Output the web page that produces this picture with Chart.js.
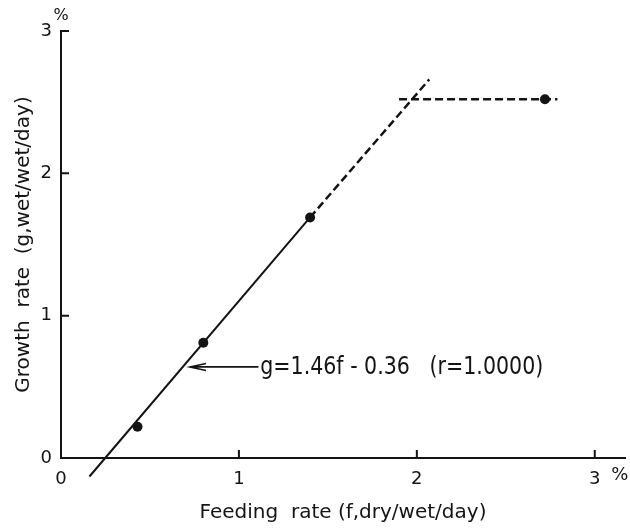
<!DOCTYPE html>
<html>
<head>
<meta charset="utf-8">
<script src="https://cdn.jsdelivr.net/npm/chart.js@4"></script>
<style>
  html, body { margin: 0; padding: 0; background: #fff; }
</style>
</head>
<body>
<canvas id="growthChart" width="630" height="529"></canvas>
<script>
// measured points (feeding rate %, growth rate %)
const feedRate = [0.43, 0.80, 1.40, 2.72];
const growthRate = [0.22, 0.81, 1.69, 2.52];

// fitted line g = 1.46f - 0.36, ends
const fitSolidX = [0.16, 1.40];
const fitSolidY = [-0.13, 1.69];
const fitDashX = [1.40, 2.07];
const fitDashY = [1.69, 2.66];

// plateau (dashed)
const plateauX = [1.90, 2.79];
const plateauY = [2.52, 2.52];

const xTicks = [0, 1, 2, 3];
const yTicks = [0, 1, 2, 3];

const eqText = 'g=1.46f - 0.36   (r=1.0000)';

const ink = '#141414';
Chart.defaults.font.family = '"DejaVu Sans", sans-serif';
Chart.defaults.color = ink;

const pts = (xs, ys) => xs.map((x, i) => ({ x: x, y: ys[i] }));

// inward ticks, % marks, arrow and equation
const paperMarks = {
  id: 'paperMarks',
  afterDraw(chart) {
    const c = chart.ctx;
    const x = chart.scales.x, y = chart.scales.y;
    const x0 = x.getPixelForValue(0), y0 = y.getPixelForValue(0);
    c.save();
    c.strokeStyle = ink;
    c.fillStyle = ink;
    c.lineWidth = 2;
    c.beginPath();
    xTicks.forEach(v => {
      const px = x.getPixelForValue(v);
      c.moveTo(px, y0);
      c.lineTo(px, y0 - 8);
    });
    yTicks.forEach(v => {
      const py = y.getPixelForValue(v);
      c.moveTo(x0, py);
      c.lineTo(x0 + 8, py);
    });
    c.stroke();

    // percent signs
    c.font = '16px "DejaVu Sans"';
    c.textAlign = 'center';
    c.textBaseline = 'middle';
    c.fillText('%', x0, 16);
    c.font = '18px "DejaVu Sans"';
    c.fillText('%', x.getPixelForValue(3) + 25, y0 + 17);

    // arrow pointing at the line
    const ay = y.getPixelForValue(0.64);
    const tip = x.getPixelForValue(0.725);
    const tail = x.getPixelForValue(1.11);
    c.lineWidth = 1.6;
    c.beginPath();
    c.moveTo(tail, ay);
    c.lineTo(tip, ay);
    c.moveTo(tip + 16, ay - 3.5);
    c.lineTo(tip, ay);
    c.lineTo(tip + 16, ay + 3.5);
    c.stroke();

    // equation, squeezed to the width of the original lettering
    c.font = '24px "DejaVu Sans"';
    c.textAlign = 'left';
    const tx = x.getPixelForValue(1.12);
    const w = c.measureText(eqText).width;
    c.translate(tx, ay);
    c.scale(283 / w, 1);
    c.fillText(eqText, 0, 1);
    c.restore();
  }
};

const ctx = document.getElementById('growthChart').getContext('2d');
const growthChart = new Chart(ctx, {
  type: 'scatter',
  data: {
    datasets: [{
      data: pts(fitSolidX, fitSolidY),
      showLine: true,
      borderColor: ink,
      borderWidth: 2,
      pointRadius: 0,
      clip: false
    }, {
      data: pts(fitDashX, fitDashY),
      showLine: true,
      borderColor: ink,
      borderWidth: 2.5,
      borderDash: [8, 4],
      pointRadius: 0,
      clip: false
    }, {
      data: pts(plateauX, plateauY),
      showLine: true,
      borderColor: ink,
      borderWidth: 2.5,
      borderDash: [8, 4],
      pointRadius: 0,
      clip: false
    }, {
      data: pts(feedRate, growthRate),
      pointRadius: 5,
      pointBackgroundColor: ink,
      pointBorderWidth: 0,
      clip: false
    }]
  },
  options: {
    responsive: false,
    animation: false,
    devicePixelRatio: 1,
    layout: { padding: { top: 31, right: 0, left: 0, bottom: 0 } },
    plugins: {
      legend: { display: false },
      tooltip: { enabled: false }
    },
    scales: {
      x: {
        type: 'linear',
        min: 0,
        max: 3.17,
        afterBuildTicks: s => { s.ticks = xTicks.map(v => ({ value: v })); },
        afterFit: s => { s.height = 71; },
        grid: { display: false, drawTicks: false },
        border: { color: ink, width: 2 },
        ticks: { padding: 11, maxRotation: 0, autoSkip: false, font: { size: 18 }, color: ink,
                 callback: v => String(v) },
        title: { display: true, text: 'Feeding  rate (f,dry/wet/day)', color: ink,
                 font: { size: 20 }, padding: { top: 0, bottom: 4 } }
      },
      y: {
        type: 'linear',
        min: 0,
        max: 3,
        afterBuildTicks: s => { s.ticks = yTicks.map(v => ({ value: v })); },
        afterFit: s => { s.width = 61; },
        grid: { display: false, drawTicks: false },
        border: { color: ink, width: 2 },
        ticks: { padding: 9, font: { size: 18 }, color: ink, callback: v => String(v) },
        title: { display: true, text: 'Growth  rate  (g,wet/wet/day)', color: ink,
                 font: { size: 20 }, padding: { top: 12, bottom: 0 } }
      }
    }
  },
  plugins: [paperMarks]
});
</script>
</body>
</html>
